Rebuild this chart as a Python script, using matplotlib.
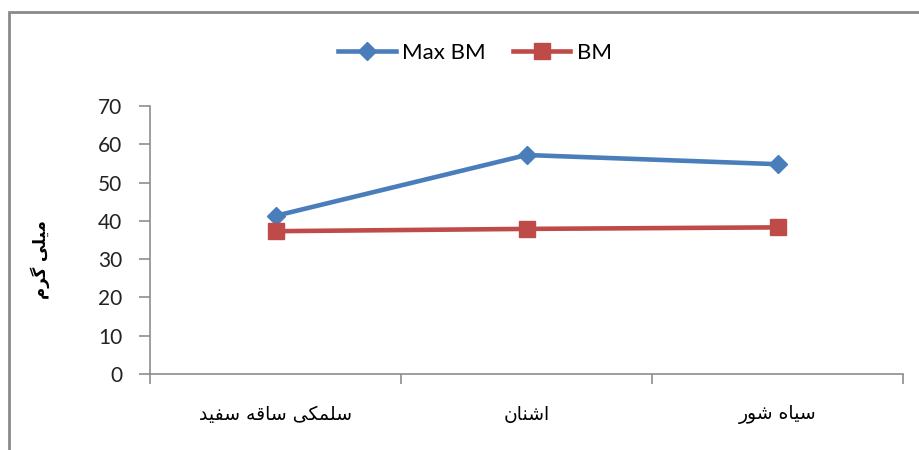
import matplotlib
matplotlib.use("Agg")
from matplotlib import pyplot as plt
from matplotlib.patches import Rectangle

# plant species (persian) and biomass values in mg
categories = ["سلمکی ساقه سفید", "اشنان", "سیاه شور"]
max_bm = [41.3, 57.2, 54.8]
bm = [37.3, 37.9, 38.3]
y_ticks = [0, 10, 20, 30, 40, 50, 60, 70]
y_label = "میلی گرم"

# presentation forms: isolated, final, initial, medial
forms = {
    "ا": (0xFE8D, 0xFE8E), "د": (0xFEA9, 0xFEAA), "ر": (0xFEAD, 0xFEAE),
    "و": (0xFEED, 0xFEEE),
    "س": (0xFEB1, 0xFEB2, 0xFEB3, 0xFEB4), "ش": (0xFEB5, 0xFEB6, 0xFEB7, 0xFEB8),
    "ف": (0xFED1, 0xFED2, 0xFED3, 0xFED4), "ق": (0xFED5, 0xFED6, 0xFED7, 0xFED8),
    "ل": (0xFEDD, 0xFEDE, 0xFEDF, 0xFEE0), "م": (0xFEE1, 0xFEE2, 0xFEE3, 0xFEE4),
    "ن": (0xFEE5, 0xFEE6, 0xFEE7, 0xFEE8), "ه": (0xFEE9, 0xFEEA, 0xFEEB, 0xFEEC),
    "ی": (0xFBFC, 0xFBFD, 0xFBFE, 0xFBFF), "ک": (0xFB8E, 0xFB8F, 0xFB90, 0xFB91),
    "گ": (0xFB92, 0xFB93, 0xFB94, 0xFB95),
}


def shape(text):
    # join letters and flip to visual order, since matplotlib draws left to right
    out = []
    for word in text.split(" "):
        res = ""
        for i, c in enumerate(word):
            f = forms[c]
            prev_joins = i > 0 and len(forms[word[i - 1]]) == 4
            has_next = i < len(word) - 1
            if len(f) == 4 and has_next:
                res += chr(f[3] if prev_joins else f[2])
            else:
                res += chr(f[1] if prev_joins else f[0])
        out.append(res)
    return " ".join(out)[::-1]


blue = "#4A7EBB"
red = "#BE4B48"
axis_gray = "#8E8E8E"

fig = plt.figure(figsize=(9.19, 4.5), dpi=100)
fig.patches.append(Rectangle((9 / 919, -0.1), 1.2, 1.1 - 12 / 450, transform=fig.transFigure,
                             fill=False, edgecolor="#8A8A8A", linewidth=2))

ax = fig.add_axes([150 / 919, 1 - 374 / 450, (903 - 150) / 919, (374 - 106) / 450])
x = list(range(len(categories)))
ax.plot(x, max_bm, "-D", color=blue, linewidth=3.3, markersize=9, label="Max BM", clip_on=False)
ax.plot(x, bm, "-s", color=red, linewidth=3.3, markersize=11, label="BM", clip_on=False)

ax.set_xlim(-0.5, 2.5)
ax.set_ylim(0, 70)
ax.set_yticks(y_ticks)
ax.set_yticklabels([str(v) for v in y_ticks], fontsize=15, color="#222222", family="Lato")
ax.set_xticks([-0.5, 0.5, 1.5, 2.5])
ax.set_xticklabels([])
ax.set_xticks(x, minor=True)
ax.set_xticklabels([shape(c) for c in categories], minor=True, fontsize=13.5, family="DejaVu Sans")
ax.tick_params(axis="x", which="minor", length=0, pad=22)
ax.tick_params(axis="x", which="major", direction="out", length=7, color=axis_gray, width=1.2)
ax.tick_params(axis="y", direction="out", length=8, color=axis_gray, width=1.2, pad=12)
for side in ["top", "right"]:
    ax.spines[side].set_visible(False)
for side in ["left", "bottom"]:
    ax.spines[side].set_color(axis_gray)
    ax.spines[side].set_linewidth(1.2)

fig.text(40 / 919, 1 - 260 / 450, shape(y_label), rotation=90, ha="center", va="center",
         fontsize=12, fontweight="bold", family="DejaVu Sans")

fig.legend(loc="center", bbox_to_anchor=(475 / 919, 1 - 53 / 450), ncol=2, frameon=False,
           prop={"family": "Lato", "size": 16}, handlelength=2.6, handletextpad=0.3,
           columnspacing=1.2)

fig.savefig("out.png", dpi=100)
